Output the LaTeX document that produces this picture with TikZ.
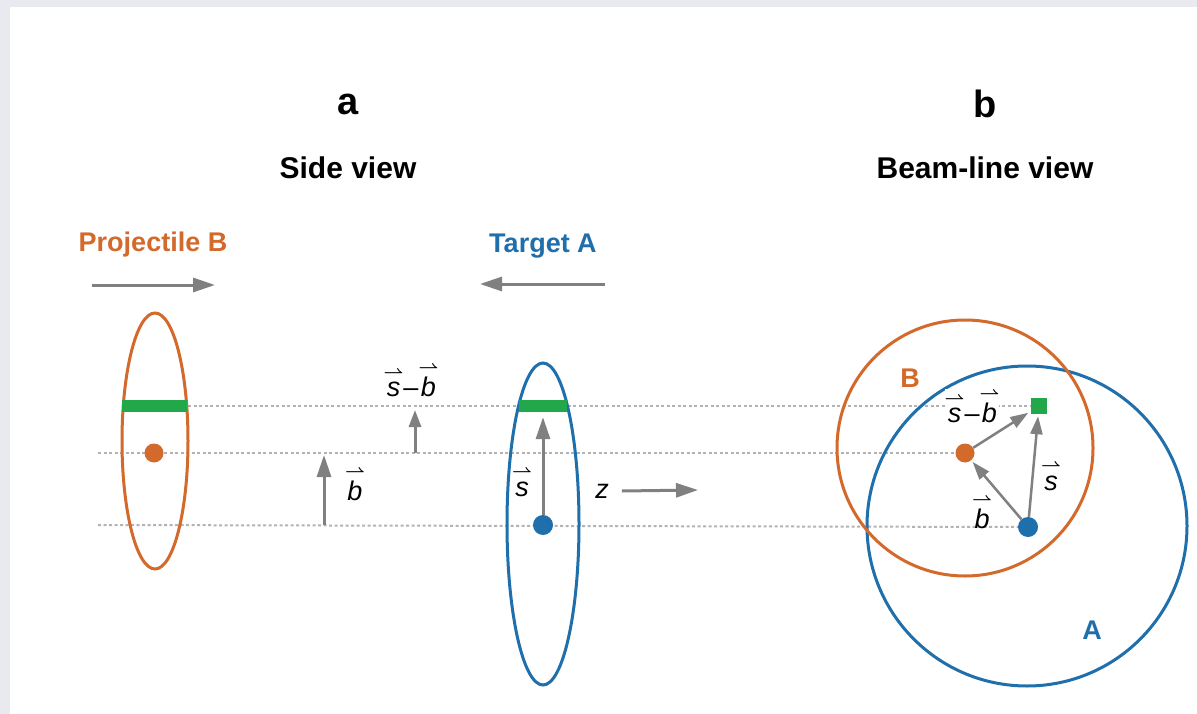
\documentclass[tikz,border=0pt]{standalone}
\usepackage{amsmath}
\usepackage{fontspec}
\setmainfont{Liberation Sans}
\usetikzlibrary{arrows.meta,positioning}
\definecolor{proj}{HTML}{D3692B}
\definecolor{targ}{HTML}{1E6FAB}
\definecolor{glue}{HTML}{22A84A}
\definecolor{shade}{HTML}{808080}
\definecolor{frame}{HTML}{E8EAF0}
\newcommand\vecS{$\overset{\scriptstyle\boldsymbol{\rightharpoonup}}{\textit{s}}$}
\newcommand\vecB{$\overset{\scriptstyle\boldsymbol{\rightharpoonup}}{\textit{b}}$}
\tikzset{
  panel/.style={font=\fontsize{38}{42}\selectfont\bfseries},
  heading/.style={font=\fontsize{30}{34}\selectfont\bfseries},
  nucname/.style={font=\fontsize{27}{31}\selectfont\bfseries},
  veclabel/.style={font=\fontsize{27}{31}\selectfont,inner sep=1pt},
  move/.style={draw=shade,line width=3pt,-{Triangle[length=22pt,width=14pt]}},
  pull/.style={draw=shade,line width=2.5pt,-{Triangle[length=18pt,width=12pt]}},
  level/.style={draw=shade!60,line width=2pt,dash pattern=on 3pt off 2.5pt},
  rim/.style={line width=3pt},
  dotB/.style={circle,fill=proj,inner sep=0pt,minimum size=19pt},
  dotA/.style={circle,fill=targ,inner sep=0pt,minimum size=20pt},
  bar/.style={fill=glue,inner sep=0pt,minimum height=12pt}}
\begin{document}
\begin{tikzpicture}[x=1pt,y=-1pt]
\fill[frame](0,0)rectangle(1197,714);
\fill[white](10,7)rectangle(1197,714);
\useasboundingbox(0,0)rectangle(1197,714);
% titles
\node[panel](tagA)at(348,104){a};
\node[heading](sideview)at(348,168){Side view};
\node[panel](tagB)at(985,104){b};
\node[heading](beamview)at(985,168){Beam-line view};
% side view: nuclei and directions
\node[nucname,text=proj](projname)at(153,245){Projectile B};
\node[nucname,text=targ](targname)at(543,246){Target A};
\coordinate(projfrom)at(92,285);\coordinate(projto)at(215,285);
\coordinate(targfrom)at(605,284);\coordinate(targto)at(480,284);
\draw[move](projfrom)--(projto);\draw[move](targfrom)--(targto);
% dotted levels
\coordinate(topL)at(122,406);\coordinate(midL)at(98,453);\coordinate(lowL)at(98,525);
\node[dotB](beamB)at(965,453){};
\node[dotA](beamA)at(1028,527){};
\node[fill=glue,inner sep=0pt,minimum size=16pt](beamhit)at(1039,406){};
\draw[level](topL)--(beamhit);\draw[level](midL)--(beamB);\draw[level](lowL)--(beamA);
\draw[proj,rim](155,441)ellipse[x radius=33pt,y radius=128pt];
\draw[targ,rim](543,524)ellipse[x radius=36pt,y radius=161pt];
\node[bar,minimum width=65pt](hitB)at(154.5,406){};
\node[bar,minimum width=48pt](hitA)at(543,406){};
\node[dotB](sideB)at(154,453){};
\node[dotA](sideA)at(543,525){};
\draw[move,shorten >=5pt](sideA)--(hitA);
\node[veclabel](slab)at(522,482){\vecS};
\node[veclabel](zlab)at(602,491){\textit{z}};
\coordinate(zto)at(698,490);
\draw[move]([xshift=12pt]zlab.east)--(zto);
\coordinate(bfoot)at(324,525);\coordinate(bhead)at(324,455);
\draw[move](bfoot)--(bhead);
\node[veclabel](blab)at(355,484){\vecB};
\coordinate(sbfoot)at(415,453);\coordinate(sbhead)at(415,410);
\draw[move,-{Triangle[length=17pt,width=12pt]}](sbfoot)--(sbhead);
\node[veclabel](sblab)at(411,380){\vecS--\vecB};
% beam-line view
\draw[targ,rim](1027,526)circle[radius=160pt];
\draw[proj,rim](965,448)circle[radius=128pt];
\node[nucname,text=proj](Blab)at(910,378){B};
\node[nucname,text=targ](Alab)at(1092,630){A};
\draw[pull,shorten >=2pt](beamA)--(beamB);
\draw[pull,shorten >=3pt](beamB)--(beamhit);
\draw[pull,shorten >=2pt](beamA)--(beamhit);
\node[veclabel,fill=white,inner sep=0pt](sblab2)at(972,406){\vecS--\vecB};
\node[veclabel](blab2)at(982,512){\vecB};
\node[veclabel](slab2)at(1051,476){\vecS};
\end{tikzpicture}
\end{document}
